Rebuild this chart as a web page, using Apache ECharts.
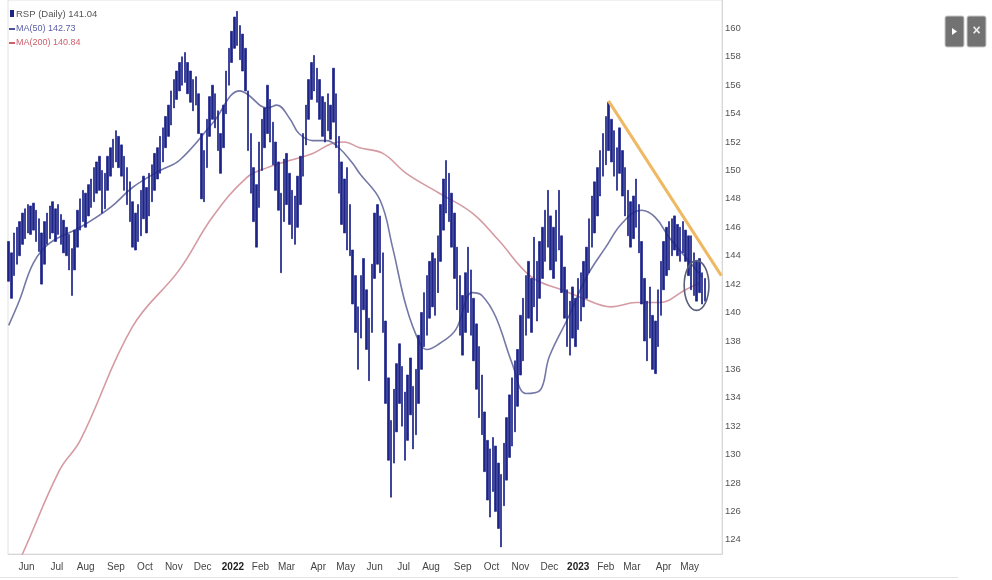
<!DOCTYPE html>
<html><head><meta charset="utf-8">
<script src="https://cdn.jsdelivr.net/npm/echarts@6/dist/echarts.min.js"></script>
<style>html,body{margin:0;padding:0;background:#fff}#c{width:992px;height:580px}</style>
</head><body><div id="c"></div>
<script>
// ---- axis / categories ----
const startDate = '2021-05-12';
const endDate = '2023-06-02';
const lastLabelDate = '2023-05-31';
const holidays = ['2021-05-31','2021-07-05','2021-09-06','2021-11-25','2021-12-24',
  '2022-01-17','2022-02-21','2022-04-15','2022-05-30','2022-06-20','2022-07-04','2022-09-05','2022-11-24','2022-12-26',
  '2023-01-02','2023-01-16','2023-02-20','2023-04-07','2023-05-29'];
const monthNames = ['Jan','Feb','Mar','Apr','May','Jun','Jul','Aug','Sep','Oct','Nov','Dec'];
const yTicks = [124,126,128,130,132,134,136,138,140,142,144,146,148,150,152,154,156,158,160];

// ---- RSP daily bars (one bar every 2 trading days): lows / highs ----
const lows = [
 142.2,141.0,142.6,143.4,
 144.0,144.8,145.2,145.6,
 145.5,145.8,145.0,144.3,
 142.0,143.4,144.8,
 145.2,145.6,145.0,145.5,
 144.8,144.2,144.0,143.0,141.2,143.0,
 144.6,145.8,146.4,146.0,
 146.8,147.4,147.8,148.4,148.6,
 147.0,147.3,
 148.6,149.6,150.2,150.6,150.2,
 149.6,148.6,147.6,146.4,
 144.6,144.4,145.0,
 145.4,146.6,145.6,146.8,
 147.8,148.6,149.4,149.8,
 150.6,151.6,152.4,
 153.2,154.4,155.0,155.6,
 156.0,156.2,155.4,
 154.8,154.2,154.6,152.6,
 148.0,147.8,
 150.2,152.4,153.6,153.0,
 151.4,149.8,151.6,
 154.0,156.0,157.6,158.6,158.8,
 157.8,157.0,155.6,
 151.4,148.4,146.4,144.6,
 147.4,150.0,151.6,152.6,152.0,
 150.4,148.6,147.2,142.8,
 146.4,147.6,146.2,145.2,144.8,
 146.0,147.6,149.6,151.8,
 153.6,155.0,155.6,154.8,153.6,
 152.4,152.0,152.8,152.2,153.4,
 151.6,148.4,146.2,145.6,
 144.4,144.0,
 140.6,138.6,136.0,138.2,140.2,137.4,135.2,
 138.6,142.4,143.4,142.8,
 138.6,133.6,129.6,127.0,
 129.4,131.6,133.6,132.0,129.6,131.0,132.8,130.4,131.4,
 133.6,136.0,137.6,138.4,139.6,140.4,139.8,141.4,
 143.6,145.8,147.0,146.4,144.6,
 142.4,140.2,138.4,137.0,138.6,140.0,138.4,
 136.6,134.6,132.6,131.4,
 128.8,126.8,125.6,127.4,126.0,124.8,123.5,126.4,
 128.2,129.8,130.6,131.6,133.4,
 135.6,136.6,138.4,139.6,138.6,140.4,139.4,
 141.0,142.4,143.6,144.6,143.0,142.4,143.6,144.4,
 141.4,139.6,137.6,137.0,138.2,137.6,138.8,
 139.4,140.4,141.0,142.8,144.6,145.6,146.8,148.2,149.6,150.4,
 151.4,
 150.6,149.6,148.6,149.8,148.2,146.8,
 145.4,144.6,145.2,146.0,144.2,
 140.6,138.0,136.6,138.2,136.0,135.7,137.6,
 139.8,141.6,142.6,143.0,
 144.0,144.4,144.0,143.6,144.2,143.6,142.6,
 141.6,141.2,140.8,141.4,140.6,140.8
];
const highs = [
 145.0,144.2,145.6,146.0,
 146.4,147.0,147.3,147.6,
 147.5,147.7,147.2,146.6,
 145.6,146.4,147.0,
 147.5,147.8,147.3,147.6,
 146.9,146.5,146.0,145.5,144.5,145.8,
 147.2,148.0,148.6,148.4,
 149.0,149.4,150.2,150.6,151.0,
 150.0,149.8,
 151.0,151.6,152.2,152.8,152.4,
 151.8,151.0,150.2,149.2,
 147.8,147.0,147.6,
 148.6,149.6,148.8,149.8,
 150.4,151.2,151.6,152.4,
 153.0,153.8,154.6,
 155.6,156.4,157.0,157.6,
 158.0,158.3,157.6,
 157.0,156.4,156.6,155.4,
 152.6,151.4,
 153.6,155.2,156.0,155.4,
 154.2,152.6,154.6,
 157.0,158.6,159.8,160.8,161.2,
 160.2,159.6,158.6,
 155.6,152.6,150.2,149.0,
 152.0,153.6,154.4,156.0,155.0,
 153.4,152.0,150.6,148.4,
 150.8,151.2,149.8,148.6,148.2,
 149.6,151.0,152.6,154.6,
 156.4,157.6,158.1,157.2,156.4,
 155.2,154.8,155.4,154.6,157.2,
 155.4,152.4,150.6,149.4,
 150.2,147.6,
 144.4,142.6,140.4,142.6,143.8,141.6,139.6,
 143.4,147.0,147.6,146.8,
 144.2,139.4,135.4,132.4,
 134.6,136.4,137.8,136.2,134.4,135.6,136.8,134.8,136.0,
 138.4,140.0,141.4,142.6,143.6,144.2,143.8,145.4,
 147.6,149.4,150.7,149.8,148.4,
 147.0,144.6,142.6,141.2,142.8,144.6,143.0,
 141.0,139.2,137.6,135.6,
 133.0,131.0,130.4,131.2,130.6,129.4,128.6,130.8,
 132.6,134.2,135.4,136.6,137.4,
 139.8,141.0,142.6,143.6,142.4,145.3,143.6,
 145.0,146.0,147.2,148.6,146.8,146.0,147.2,148.6,
 145.4,143.2,141.6,140.8,141.8,141.0,142.4,
 142.8,143.6,144.6,146.6,148.2,149.2,150.2,151.4,152.6,153.8,
 154.8,
 153.6,152.8,151.6,153.0,151.4,150.2,
 148.6,147.8,148.2,149.4,147.6,
 145.0,142.4,140.8,141.8,139.8,139.4,141.6,
 143.6,145.0,146.0,146.4,
 146.6,146.8,146.2,146.0,146.4,145.8,145.4,
 145.4,144.2,143.6,143.8,142.8,142.4
];

// ---- moving averages: [trading-day index, value] ----
const ma50 = [[0,139.1],[8,140.9],[18,143.5],[30,144.9],[52,146.0],[74,147.4],[90,148.8],[110,150.0],[124,150.7],
 [148,153.3],[168,155.6],[173,155.4],[188,154.4],[195,154.6],[204,153.7],[211,152.6],[221,152.1],[231,152.1],
 [240,151.6],[250,150.5],[255,149.8],[270,147.9],[279,144.6],[289,140.4],[299,137.8],[304,137.4],[313,137.8],
 [325,138.8],[337,141.4],[344,141.2],[354,139.7],[366,136.4],[376,134.3],[386,134.5],[393,136.9],[407,139.7],
 [420,142.5],[434,144.6],[446,146.3],[460,147.2],[470,146.7],[480,145.3],[492,143.9],[504,142.5]];
const ma200 = [[0,121.0],[10,123.0],[37,128.9],[52,131.0],[90,139.0],[124,143.0],[148,146.7],[173,149.5],[188,150.2],
 [204,150.7],[221,151.2],[235,151.9],[244,152.0],[255,151.6],[272,151.2],[289,149.8],[313,148.4],[337,147.0],
 [356,145.1],[380,142.5],[402,141.6],[415,141.1],[438,140.4],[456,140.7],[473,140.7],[492,141.6],[502,142.1]];

// ---- annotations ----
const trendPoints = [[436,154.9],[518,142.6]];
const circleMark = {idx: 500, price: 141.9, halfIdx: 9, halfPrice: 1.75};
const legendValues = {rsp: '141.04', ma50: '142.73', ma200: '140.84'};

// ---- build trading-day categories ----
const days = [];
{
  let t = Date.parse(startDate + 'T00:00:00Z');
  const e = Date.parse(endDate + 'T00:00:00Z');
  while (t <= e) {
    const d = new Date(t);
    const w = d.getUTCDay();
    const s = d.toISOString().slice(0, 10);
    if (w !== 0 && w !== 6 && holidays.indexOf(s) < 0) days.push(s);
    t += 86400000;
  }
}
const isMonthStart = (i) => i > 0 && days[i] <= lastLabelDate && days[i].slice(5, 7) !== days[i - 1].slice(5, 7);

const barData = days.map((s, k) => {
  if (k % 2 === 0 && k / 2 < lows.length) {
    const j = k / 2;
    return [lows[j], highs[j], lows[j], highs[j]];
  }
  return '-';
});

const C_BAR = '#1d2488', C_MA50 = '#7478a6', C_MA200 = '#d59aa2', C_TREND = '#efb862';

const chart = echarts.init(document.getElementById('c'));
chart.setOption({
  animation: false,
  backgroundColor: '#fff',
  grid: {left: 8, right: 270, top: 0, bottom: 26, show: true, borderColor: '#e2e2e2', borderWidth: 1},
  xAxis: {
    type: 'category', data: days, boundaryGap: true,
    axisLine: {show: true, lineStyle: {color: '#d8d8d8'}},
    axisTick: {show: false},
    splitLine: {show: false},
    axisLabel: {
      interval: (i) => isMonthStart(i),
      formatter: (v) => {
        const m = +v.slice(5, 7);
        return m === 1 ? '{y|' + v.slice(0, 4) + '}' : monthNames[m - 1];
      },
      color: '#444', fontSize: 10, fontFamily: 'Liberation Sans', margin: 8,
      rich: {y: {fontWeight: 'bold', color: '#222', fontSize: 10, fontFamily: 'Liberation Sans'}}
    }
  },
  yAxis: {
    type: 'value', position: 'right', min: 123, max: 162, interval: 1, scale: true,
    axisLine: {show: true, lineStyle: {color: '#d8d8d8'}},
    axisTick: {show: false},
    splitLine: {show: false},
    axisLabel: {
      formatter: (v) => yTicks.indexOf(v) >= 0 ? String(v) : '',
      color: '#555', fontSize: 9.5, fontFamily: 'Liberation Sans', margin: 3
    }
  },
  series: [
    {
      type: 'line', name: 'MA(200)', data: ma200.map(p => [days[p[0]], p[1]]),
      smooth: 0.4, symbol: 'none', lineStyle: {color: C_MA200, width: 1.6}, z: 2, clip: true
    },
    {
      type: 'line', name: 'MA(50)', data: ma50.map(p => [days[p[0]], p[1]]),
      smooth: 0.4, symbol: 'none', lineStyle: {color: C_MA50, width: 1.6}, z: 2, clip: true
    },
    {
      type: 'candlestick', name: 'RSP', data: barData, barWidth: 2.0,
      itemStyle: {color: C_BAR, color0: C_BAR, borderColor: C_BAR, borderColor0: C_BAR, borderWidth: 0.7},
      z: 3
    },
    {
      type: 'line', name: 'trend', data: trendPoints.map(p => [days[p[0]], p[1]]),
      symbol: 'none', lineStyle: {color: C_TREND, width: 3}, z: 5
    }
  ]
});

// annotations positioned from data coordinates
const c0 = chart.convertToPixel({xAxisIndex: 0, yAxisIndex: 0}, [days[circleMark.idx], circleMark.price]);
const cL = chart.convertToPixel({xAxisIndex: 0, yAxisIndex: 0}, [days[circleMark.idx - circleMark.halfIdx], circleMark.price + circleMark.halfPrice]);
const rx = Math.abs(c0[0] - cL[0]), ry = Math.abs(c0[1] - cL[1]);

chart.setOption({
  graphic: [
    {type: 'ellipse', shape: {cx: c0[0], cy: c0[1], rx: rx, ry: ry}, style: {fill: 'none', stroke: '#5a5f7a', lineWidth: 1.6}, z: 10},
    // legend
    {type: 'rect', shape: {x: 10, y: 10, width: 4, height: 7}, style: {fill: C_BAR}, z: 10},
    {type: 'text', x: 16, y: 14, style: {text: 'RSP (Daily) ' + legendValues.rsp, fill: '#555', font: '9.5px "Liberation Sans"', verticalAlign: 'middle'}, z: 10},
    {type: 'line', shape: {x1: 9, y1: 29, x2: 15, y2: 29}, style: {stroke: '#4c4f9c', lineWidth: 2}, z: 10},
    {type: 'text', x: 16, y: 29, style: {text: 'MA(50) ' + legendValues.ma50, fill: '#5a5ea8', font: '9px "Liberation Sans"', verticalAlign: 'middle'}, z: 10},
    {type: 'line', shape: {x1: 9, y1: 43, x2: 15, y2: 43}, style: {stroke: '#d0606e', lineWidth: 2}, z: 10},
    {type: 'text', x: 16, y: 43, style: {text: 'MA(200) ' + legendValues.ma200, fill: '#d0606e', font: '9px "Liberation Sans"', verticalAlign: 'middle'}, z: 10},
    // toolbar buttons
    {type: 'rect', shape: {x: 945, y: 16, width: 19, height: 31, r: 2}, style: {fill: '#727272', stroke: '#c8c8c8', lineWidth: 1}, z: 10},
    {type: 'polygon', shape: {points: [[952, 28], [952, 35], [957, 31.5]]}, style: {fill: '#fff'}, z: 11},
    {type: 'rect', shape: {x: 967, y: 16, width: 19, height: 31, r: 2}, style: {fill: '#727272', stroke: '#c8c8c8', lineWidth: 1}, z: 10},
    {type: 'text', x: 976.5, y: 31.5, style: {text: '×', fill: '#eee', font: 'bold 14px "Liberation Sans"', align: 'center', verticalAlign: 'middle'}, z: 11},
    // bottom rule
    {type: 'line', shape: {x1: 0, y1: 577.5, x2: 958, y2: 577.5}, style: {stroke: '#e4e4e4', lineWidth: 1}, z: 1}
  ]
});
</script>
</body></html>
